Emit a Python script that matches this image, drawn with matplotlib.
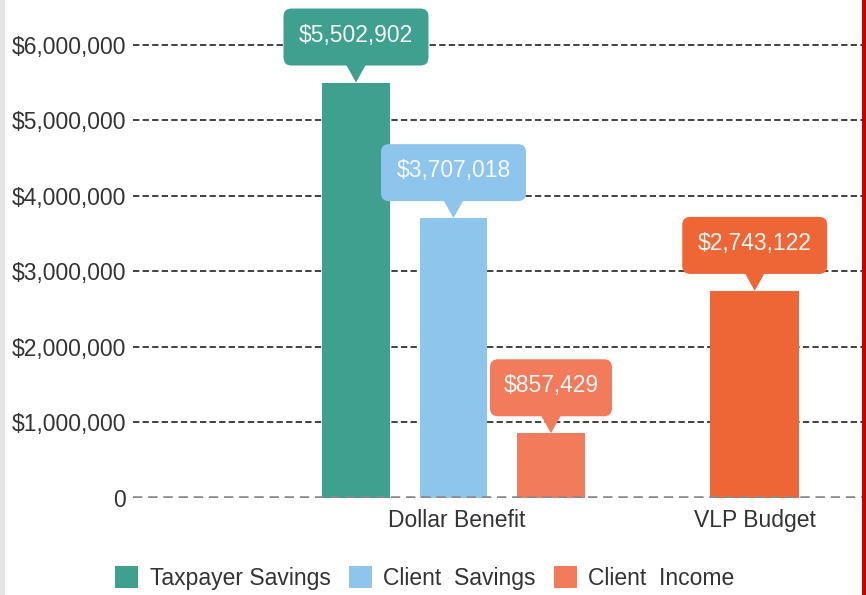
import matplotlib.pyplot as plt
import matplotlib.transforms as mtransforms
from matplotlib.patches import FancyBboxPatch, Polygon, Rectangle

plt.rcParams["font.family"] = ["Liberation Sans", "DejaVu Sans"]

series = ["Taxpayer Savings", "Client  Savings", "Client  Income"]
values = [5502902, 3707018, 857429]
budget_value = 2743122
categories = ["Dollar Benefit", "VLP Budget"]
yticks = [0, 1000000, 2000000, 3000000, 4000000, 5000000, 6000000]

colors = ["#3fa08f", "#8ec5ec", "#f27b5c"]
budget_color = "#ee6536"


def money(v):
    return "0" if v == 0 else "${:,.0f}".format(v)


def callout(ax, x, v, color):
    # box + pointer drawn in inches relative to the top of the bar
    trans = ax.figure.dpi_scale_trans + mtransforms.ScaledTranslation(x, v, ax.transData)
    label = money(v)
    w = (11.5 * len(label) + 30) / 100
    h = 0.57
    gap = 0.17
    box = FancyBboxPatch((-w / 2, gap), w, h, boxstyle="round,pad=0,rounding_size=0.08",
                         fc=color, ec="none", transform=trans, clip_on=False, zorder=5)
    tri = Polygon([(-0.1, gap + 0.01), (0.1, gap + 0.01), (0, 0.0)], closed=True,
                  fc=color, ec="none", transform=trans, clip_on=False, zorder=5)
    ax.add_patch(box)
    ax.add_patch(tri)
    ax.text(0, gap + h / 2 + 0.02, label, transform=trans, ha="center", va="center",
            fontsize=16.5, color="#f7f7f7", zorder=6, clip_on=False)


fig = plt.figure(figsize=(8.66, 5.95), dpi=100)
fig.patches.append(Rectangle((0, 0), 5 / 866, 1, transform=fig.transFigure, fc="#e6e6e6", ec="none"))
fig.patches.append(Rectangle((862 / 866, 0), 4 / 866, 1, transform=fig.transFigure, fc="#c40000", ec="none"))

ax = fig.add_axes([133 / 866, 97 / 595, 729 / 866, 498 / 595])
ax.set_xlim(-2.287, 5.19)
ax.set_ylim(0, 6.596e6)

for y in yticks[1:]:
    ax.axhline(y, color="#333333", lw=1.3, dashes=(3.5, 1.8), zorder=1)
ax.axhline(0, color="#8a8a8a", lw=2.6, dashes=(2.6, 1.6), zorder=4)

handles = []
for i, (name, v, c) in enumerate(zip(series, values, colors)):
    b = ax.bar(i, v, width=0.69, color=c, label=name, zorder=2)
    handles.append(b)
    callout(ax, i, v, c)

ax.bar(4.09, budget_value, width=0.91, color=budget_color, zorder=2)
callout(ax, 4.09, budget_value, budget_color)

ax.set_yticks(yticks)
ax.set_yticklabels([money(v) for v in yticks], fontsize=16.5, color="#333333")
ax.set_xticks([1.03, 4.09])
ax.set_xticklabels(categories, fontsize=16.5, color="#333333")
ax.tick_params(axis="both", length=0)
ax.tick_params(axis="y", pad=5)
ax.tick_params(axis="x", pad=8)
for s in ax.spines.values():
    s.set_visible(False)

fig.legend(handles=handles, labels=series, loc="center", ncol=3,
           bbox_to_anchor=(425 / 866, 1 - 578 / 595), frameon=False,
           fontsize=16.5, handlelength=1.0, handleheight=1.1,
           handletextpad=0.5, columnspacing=0.8, labelcolor="#333333")

fig.savefig("out.png", dpi=100)
